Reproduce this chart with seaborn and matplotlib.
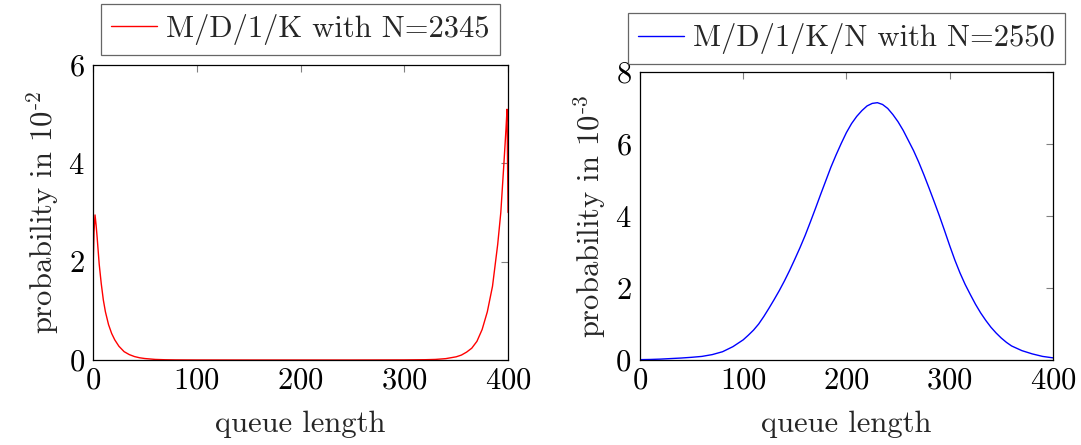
import matplotlib
matplotlib.use('Agg')
import matplotlib.pyplot as plt
import seaborn as sns

# queue length distribution, M/D/1/K (values in 1e-2)
mdk_x = [0, 1, 2, 3, 4, 6, 8, 10, 12, 15, 18, 21, 25, 30, 35, 40, 45, 50, 60, 70, 80,
         100, 150, 200, 250, 300, 320, 330, 340, 350, 355, 360, 365, 370, 375, 380,
         385, 390, 393, 396, 398, 399, 400]
mdk_y = [1.80, 2.60, 2.95, 2.75, 2.50, 1.95, 1.55, 1.22, 0.98, 0.72, 0.54, 0.41, 0.28,
         0.17, 0.11, 0.07, 0.045, 0.03, 0.012, 0.005, 0.002,
         0.0005, 0.0, 0.0, 0.0, 0.002, 0.006, 0.012, 0.028, 0.065, 0.10, 0.16, 0.24,
         0.38, 0.62, 0.98, 1.50, 2.35, 3.0, 4.0, 4.7, 5.1, 3.0]

# queue length distribution, M/D/1/K/N (values in 1e-3)
mdkn_x = [0, 10, 20, 30, 40, 50, 60, 70, 80, 90, 100,
          105, 110, 115, 120, 125, 130, 135, 140, 145, 150, 155, 160, 165, 170,
          175, 180, 185, 190, 195, 200, 205, 210, 215, 220, 225, 230, 235, 240,
          245, 250, 255, 260, 265, 270, 275, 280, 285, 290, 295, 300, 305, 310,
          315, 320, 325, 330, 335, 340, 345, 350, 355, 360, 370, 380, 390, 400]
mdkn_y = [0.01, 0.015, 0.025, 0.04, 0.055, 0.075, 0.10, 0.15, 0.23, 0.37, 0.56,
          0.69, 0.83, 1.00, 1.21, 1.44, 1.68, 1.93, 2.20, 2.49, 2.80, 3.12, 3.46,
          3.83, 4.21, 4.60, 4.98, 5.36, 5.70, 6.02, 6.32, 6.57, 6.77, 6.93, 7.06,
          7.13, 7.15, 7.10, 6.99, 6.82, 6.62, 6.38, 6.10, 5.82, 5.50, 5.15, 4.78,
          4.40, 4.01, 3.60, 3.18, 2.78, 2.42, 2.10, 1.82, 1.55, 1.31, 1.10, 0.91,
          0.75, 0.61, 0.49, 0.39, 0.26, 0.17, 0.10, 0.06]

sns.set_theme(style='white')
plt.rcParams['font.family'] = ['cmr10', 'DejaVu Serif']
plt.rcParams['mathtext.fontset'] = 'cm'
plt.rcParams['axes.formatter.use_mathtext'] = True
plt.rcParams['axes.unicode_minus'] = False

FS = 22

fig = plt.figure(figsize=(10.81, 4.45), dpi=100)
ax1 = fig.add_axes([0.086, 0.191, 0.384, 0.663])
ax2 = fig.add_axes([0.592, 0.191, 0.382, 0.647])

sns.lineplot(x=mdk_x, y=mdk_y, ax=ax1, color='red', linewidth=1.0,
             label='M/D/1/K with N=2345')
sns.lineplot(x=mdkn_x, y=mdkn_y, ax=ax2, color='blue', linewidth=1.0,
             label='M/D/1/K/N with N=2550')

panels = [(ax1, 6, [0, 2, 4, 6], r'probability in 10$^{\text{-2}}$', 1.034),
          (ax2, 8, [0, 2, 4, 6, 8], r'probability in 10$^{\text{-3}}$', 1.028)]

for ax, ymax, yticks, ylabel, leg_y in panels:
    ax.set_xlim(0, 400)
    ax.set_ylim(0, ymax)
    ax.set_xticks([0, 100, 200, 300, 400])
    ax.set_yticks(yticks)
    ax.set_xlabel('queue length', fontsize=FS, labelpad=12)
    ax.set_ylabel(ylabel, fontsize=FS, labelpad=5)
    ax.tick_params(direction='in', length=5, width=0.8, color='gray',
                   top=True, right=True, labelsize=FS, labelcolor='black')
    ax.tick_params(axis='x', pad=5)
    ax.tick_params(axis='y', pad=6)
    for s in ax.spines.values():
        s.set_color('black')
        s.set_linewidth(0.9)
    leg = ax.legend(loc='lower center', bbox_to_anchor=(0.5, leg_y), fontsize=FS,
                    frameon=True, fancybox=False, edgecolor='#404040',
                    handlelength=1.5, handletextpad=0.3, borderpad=0.32,
                    borderaxespad=0)
    leg.get_frame().set_linewidth(0.9)

fig.savefig('out.png', dpi=100)
